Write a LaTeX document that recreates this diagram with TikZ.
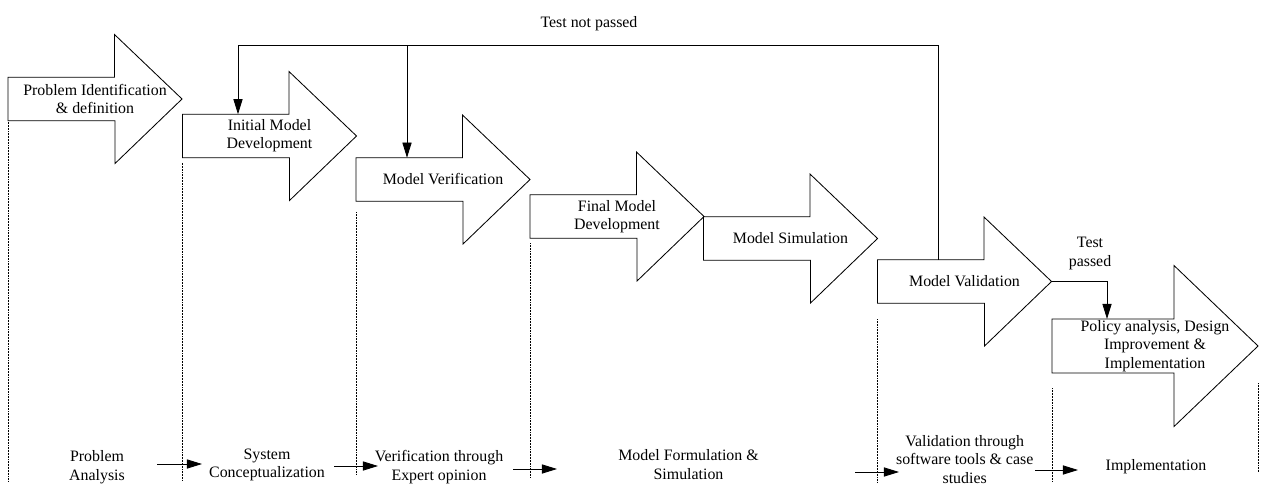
\documentclass[tikz,border=0pt]{standalone}
\usepackage{fontspec}
\setmainfont{Liberation Serif}
\usetikzlibrary{arrows.meta,calc}

\begin{document}
\begin{tikzpicture}[x=0.025cm, y=-0.025cm,
    font=\fontsize{11.3}{13}\selectfont,
    stage/.style={inner sep=0pt, outer sep=0pt, align=center, minimum width=4.35cm, minimum height=1.0875cm},
    outline/.style={draw=black, line width=0.6pt, line join=miter},
    flow/.style={-{Triangle[length=3.8mm,width=2.3mm]}, line width=0.6pt},
    guide/.style={line width=0.5pt, dash pattern=on 0.55pt off 0.55pt},
    lbl/.style={align=center, inner sep=0pt}]
    \useasboundingbox (0,0) rectangle (1267,497);

    % Draw stage arrows
    \foreach \i/\x/\y/\txt in {1/95/99/{Problem Identification\\\& definition},
        2/269.5/136/{Initial Model\\Development}, 3/443/179.5/{Model Verification},
        4/617/216.5/{Final Model\\Development}, 5/790.5/238.5/{Model Simulation},
        6/964.5/281.5/{Model Validation}} {
        \node[stage] (s\i) at (\x,\y) {\txt};
        \draw[outline] (s\i.north west) -- ++(106.5,0) -- ++(0,-42.75) -- (s\i.east)
            -- ++(-67,64.5) -- ++(0,-42.75) -- (s\i.south west) -- cycle;
    }

    % Last stage is larger
    \node[stage, minimum width=5.15cm, minimum height=1.35cm] (s7) at (1155,346)
        {Policy analysis, Design\\Improvement \&\\Implementation};
    \draw[outline] (s7.north west) -- ++(122,0) -- ++(0,-53.5) -- (s7.east)
        -- ++(-84,80.5) -- ++(0,-53.5) -- (s7.south west) -- cycle;

    % Dotted phase separators
    \foreach \i/\gap/\bot in {1/1/481, 2/5/481, 3/11/475, 4/5/478, 6/16/483, 7/15/481}
        \draw[guide] ($(s\i.south west)+(0,\gap)$) -- (s\i.south west |- 0,\bot);
    \draw[guide] ($(s7.east)+(0,37)$) -- (s7.east |- 0,472);

    % Feedback loop
    \coordinate (t2) at (238,45.5);
    \coordinate (t3) at (407,45.5);
    \coordinate (t6) at (938,45.5);
    \draw[flow] (s6.north -| t6) -- (t6) -- (t2) -- (s2.north -| t2);
    \draw[flow] (t3) -- (s3.north -| t3);
    \node (nopass) at (589,24) {Test not passed};

    % Exit to the last stage
    \coordinate (tp) at (1107,300);
    \draw[flow] (s6.east) -| (s7.north -| tp);
    \node[lbl] (pass) at (1090,253.5) {Test\\passed};

    % Phase labels
    \foreach \k/\x/\y/\txt in {1/97/467.3/{Problem\\Analysis},
        2/267/465/{System\\Conceptualization},
        3/439/467/{Verification through\\Expert opinion},
        4/688.5/464.5/{Model Formulation \&\\Simulation},
        5/964.7/459.5/{Validation through\\software tools \& case\\studies},
        6/1156/467/{Implementation}}
        \node[lbl] (l\k) at (\x,\y) {\txt};

    % Hand-off arrows between phases
    \foreach \k/\xa/\xb/\y in {1/157/202/464, 2/334/378/466, 3/513/557/469,
        4/855/899/472, 5/1035/1078/470} {
        \coordinate (h\k a) at (\xa,\y);
        \coordinate (h\k b) at (\xb,\y);
        \draw[flow] (h\k a) -- (h\k b);
    }
\end{tikzpicture}
\end{document}
